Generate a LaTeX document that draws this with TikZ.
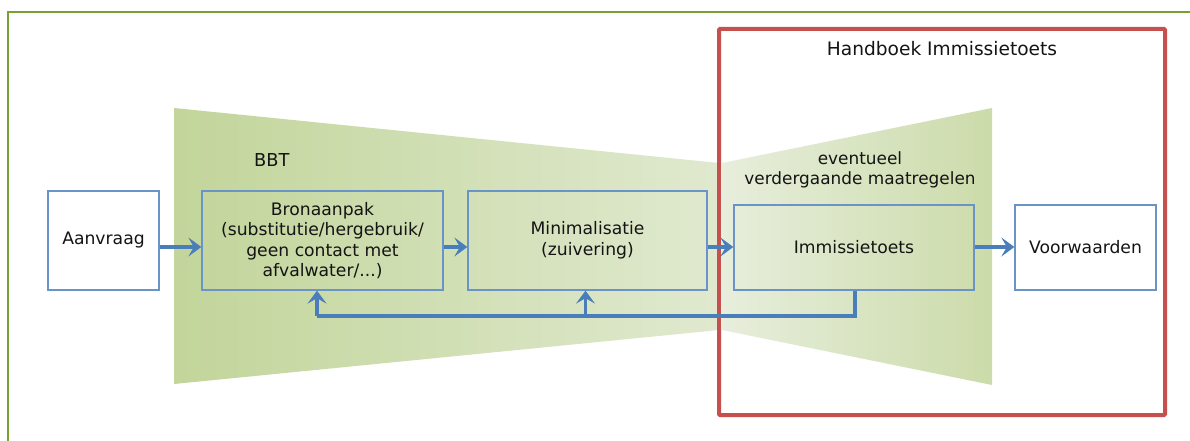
\documentclass[tikz,border=0pt]{standalone}
\usepackage{fontspec}
\setmainfont{DejaVu Sans}
\usetikzlibrary{arrows.meta}
\definecolor{framegreen}{HTML}{78A22F}
\definecolor{gdark}{HTML}{C2D59A}
\definecolor{glight}{HTML}{E0E9CF}
\definecolor{gdark2}{HTML}{CCDBAA}
\definecolor{glight2}{HTML}{E7EEDC}
\definecolor{boxblue}{HTML}{6A93C8}
\definecolor{arrblue}{HTML}{4A7EBB}
\definecolor{redbox}{HTML}{C5504E}
\definecolor{txt}{HTML}{141414}
\tikzset{
  stepbox/.style={draw=boxblue, line width=1.3pt, rectangle, align=center, text=txt,
    font=\fontsize{17.2}{20.6}\selectfont, inner sep=0pt},
  arr/.style={draw=arrblue, line width=3.3pt, -{Stealth[length=13pt,width=19pt,inset=5.5pt]}},
  fbline/.style={draw=arrblue, line width=3.3pt},
  lbl/.style={text=txt, inner sep=0pt},
}
\begin{document}
\begin{tikzpicture}[x=1pt,y=-1pt]
\useasboundingbox (0,0) rectangle (1190,441);
\fill[white] (0,0) rectangle (1190,441);
% outer green frame (only left and top visible)
\draw[framegreen, line width=2.8pt] (8,445) -- (8,12) -- (1195,12);
% bow-tie shapes
\shade[left color=gdark, right color=glight] (174,108) -- (719,163) -- (719,330) -- (174,384) -- cycle;
\shade[left color=glight2, right color=gdark2] (722,163) -- (992,108) -- (992,385) -- (722,330) -- cycle;
% red box
\draw[redbox, line width=4pt, rounded corners=1pt] (719,29) rectangle (1165,415);
\node[lbl, font=\fontsize{18.6}{21}\selectfont] (hb) at (942,49) {Handboek Immissietoets};
\node[lbl, font=\fontsize{17.8}{21}\selectfont, anchor=west] (bbt) at (254,160) {BBT};
\node[lbl, align=center, font=\fontsize{16.9}{20.5}\selectfont] (ev) at (860,170) {eventueel\\verdergaande maatregelen};
% boxes
\node[stepbox, fill=white, minimum width=111pt, minimum height=99pt] (aan) at (103.5,240.5) {Aanvraag};
\node[stepbox, minimum width=241pt, minimum height=99pt] (bron) at (322.5,240.5) {Bronaanpak\\(substitutie/hergebruik/\\geen contact met\\afvalwater/...)};
\node[stepbox, minimum width=239pt, minimum height=99pt] (min) at (587.5,240.5) {Minimalisatie\\(zuivering)};
\node[stepbox, minimum width=240pt, minimum height=85pt] (imm) at (854,247.5) {Immissietoets};
\node[stepbox, fill=white, minimum width=141pt, minimum height=85pt] (voor) at (1085.5,247.5) {Voorwaarden};
% flow arrows
\coordinate (ay) at (0,247);
\draw[arr] (aan.east |- ay) -- (bron.west |- ay);
\draw[arr] (bron.east |- ay) -- (min.west |- ay);
\draw[arr] (min.east |- ay) -- (imm.west |- ay);
\draw[arr] (imm.east |- ay) -- (voor.west |- ay);
% feedback
\coordinate (fbr) at (855,316);
\coordinate (fbl) at (317,316);
\coordinate (fbm) at (585.5,316);
\draw[fbline] (imm.south -| fbr) -- (fbr) -- (fbl);
\draw[arr] (fbl) -- (fbl |- bron.south);
\draw[arr] (fbm) -- (fbm |- min.south);
\end{tikzpicture}
\end{document}
